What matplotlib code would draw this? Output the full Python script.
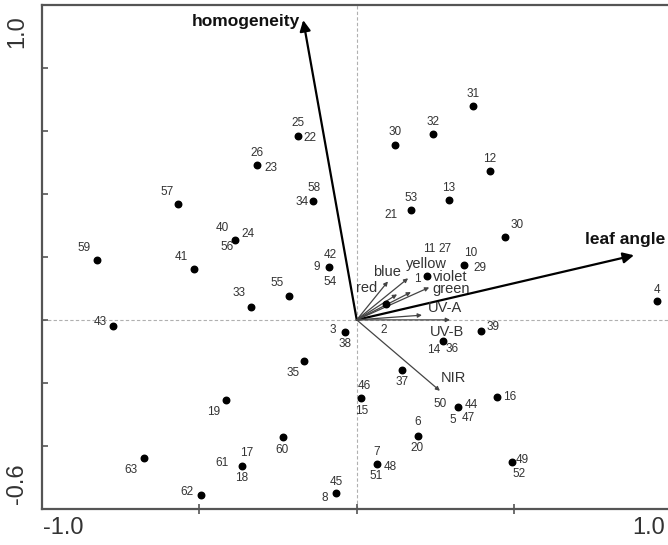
import matplotlib
matplotlib.use("Agg")
import matplotlib.pyplot as plt

plt.rcParams['font.family'] = ['Liberation Sans', 'DejaVu Sans']

# site scores (axis 1, axis 2) and the sample numbers printed at each point
site_x = [-0.187, -0.317, -0.566, -0.138, -0.386, -0.825, -0.516, -0.087, -0.337, -0.216,
          -0.775, -0.167, -0.416, -0.235, -0.675, -0.365, -0.494, -0.066, -0.037, 0.952,
          0.394, 0.273, 0.093, 0.143, 0.014, 0.323, 0.444, 0.194, 0.063, 0.492,
          0.370, 0.241, 0.122, 0.422, 0.292, 0.171, 0.471, 0.342, 0.224]
site_y = [0.582, 0.493, 0.369, 0.376, 0.253, 0.189, 0.163, 0.168, 0.042, 0.076,
          -0.020, -0.132, -0.255, -0.372, -0.437, -0.463, -0.555, -0.548, -0.040, 0.060,
          -0.035, -0.068, 0.050, -0.158, -0.249, -0.275, -0.244, -0.367, -0.457, -0.451,
          0.679, 0.589, 0.556, 0.471, 0.381, 0.348, 0.263, 0.173, 0.139]
site_labels = [["25", "22"], ["26", "23"], ["57"], ["58", "34"], ["40", "24", "56"],
               ["59"], ["41"], ["42", "9", "54"], ["33"], ["55"],
               ["43"], ["35"], ["19"], ["60"], ["63"],
               ["17", "61", "18"], ["62"], ["45", "8"], ["3", "38"], ["4"],
               ["39"], ["14", "36"], ["2"], ["37"], ["46", "15"],
               ["50", "44", "5", "47"], ["16"], ["6", "20"], ["7", "48", "51"], ["49", "52"],
               ["31"], ["32"], ["30"], ["12"], ["13"],
               ["53", "21"], ["30"], ["10", "29"], ["1", "11", "27"]]

# environmental variables (biplot arrows)
env_names = ["homogeneity", "leaf angle", "blue", "yellow", "red", "violet", "green",
             "UV-A", "UV-B", "NIR"]
env_x = [-0.170, 0.880, 0.099, 0.163, 0.128, 0.172, 0.230, 0.207, 0.296, 0.264]
env_y = [0.951, 0.205, 0.122, 0.132, 0.081, 0.088, 0.103, 0.015, 0.000, -0.225]

# label placement (pixels right / down from the point)
site_offsets = [[(0, -13.7), (12.3, 1.3)], [(0.3, -12), (14, 3)], [(-11.6, -11.3)],
                [(0.7, -13), (-11.6, 1)], [(-13, -11.7), (13, -5.7), (-8.3, 7.3)],
                [(-12.4, -12)], [(-12.6, -11.6)], [(0.7, -11.7), (-12.3, 0), (0.7, 15.3)],
                [(-11.7, -13.3)], [(-12, -12.7)],
                [(-12.7, -3.7)], [(-11.3, 11.7)], [(-11.7, 12)], [(-0.4, 12.4)], [(-13, 12)],
                [(5, -12.7), (-20, -2.7), (0, 12.3)], [(-14.3, -2.7)], [(0.7, -10.7), (-11, 5.3)],
                [(-12, -2.3), (0, 11.7)], [(0.6, -11)],
                [(12.6, -4.4)], [(-8.7, 8.4), (9, 7.7)], [(-2, 25.7)], [(0, 12)],
                [(3.3, -12.6), (0.7, 12.4)],
                [(-18.3, -2.7), (12.4, -1.7), (-5.6, 13), (10, 11.3)], [(12.6, 0)],
                [(0, -14), (-0.4, 12.3)], [(0, -12.3), (13.3, 2.7), (0, 12.3)],
                [(11, -2.3), (7.6, 12.4)],
                [(-0.6, -12)], [(0, -12.7)], [(0, -12.7)], [(0, -12.7)], [(0, -12)],
                [(0, -12.4), (-20, 4.3)], [(12.3, -12.4)], [(6.4, -12.7), (15.7, 2.3)],
                [(-9.6, 2.6), (2, -27.4), (17.7, -27.4)]]
env_offsets = [(-3, 1), (31, -15.3), (-0.5, -9), (18.5, -14.5), (-30, -6), (39.5, -15.5),
               (22, 2), (23, -7), (-3, 12.3), (14, -12.7)]

fig = plt.figure(figsize=(6.68, 5.45), dpi=100)
ax = fig.add_axes([41.7 / 668, 36 / 545, 626.3 / 668, 504.3 / 545])
ax.set_xlim(-1.0, 0.988)
ax.set_ylim(-0.6, 1.0)

ax.axhline(0, color='#b0b0b0', lw=0.8, ls=(0, (3, 2)), zorder=1)
ax.axvline(0, color='#b0b0b0', lw=0.8, ls=(0, (3, 2)), zorder=1)

# arrows
for i, name in enumerate(env_names):
    big = i < 2
    ax.annotate('', xy=(env_x[i], env_y[i]), xytext=(0, 0),
                arrowprops=dict(arrowstyle='-|>', color='black' if big else '#444444',
                                lw=1.6 if big else 0.9,
                                mutation_scale=16 if big else 6,
                                shrinkA=0, shrinkB=0), zorder=2)
    dx, dy = env_offsets[i]
    if big:
        ax.annotate(name, xy=(env_x[i], env_y[i]), xytext=(dx, -dy),
                    textcoords='offset pixels', ha='right', va='center',
                    fontsize=12.5, fontweight='bold', color='#111111')
    else:
        ax.annotate(name, xy=(env_x[i], env_y[i]), xytext=(dx, -dy),
                    textcoords='offset pixels', ha='center', va='center',
                    fontsize=10.5, color='#333333')

# sites
ax.scatter(site_x, site_y, s=22, color='black', zorder=3)
for i in range(len(site_x)):
    for lab, (dx, dy) in zip(site_labels[i], site_offsets[i]):
        ax.annotate(lab, xy=(site_x[i], site_y[i]), xytext=(dx, -dy),
                    textcoords='offset pixels', ha='center', va='center',
                    fontsize=8.5, color='#333333')

# frame and ticks
for side in ['left', 'bottom', 'top']:
    ax.spines[side].set_color('#555555')
    ax.spines[side].set_linewidth(1.6)
ax.spines['right'].set_visible(False)
ax.set_xticks([-0.5, 0, 0.5])
ax.set_yticks([-0.4, -0.2, 0, 0.2, 0.4, 0.6, 0.8])
ax.tick_params(axis='x', direction='inout', length=7, width=1.2, color='#555555',
               labelbottom=False)
ax.tick_params(axis='y', direction='in', length=4, width=1.2, color='#555555',
               labelleft=False)

ax.text(0.002, -0.015, "-1.0", transform=ax.transAxes, ha='left', va='top',
        fontsize=17, color='#333333')
ax.text(0.995, -0.015, "1.0", transform=ax.transAxes, ha='right', va='top',
        fontsize=17, color='#333333')
ax.text(-0.022, 0.98, "1.0", transform=ax.transAxes, ha='right', va='top',
        rotation=90, fontsize=17, color='#333333')
ax.text(-0.022, 0.01, "-0.6", transform=ax.transAxes, ha='right', va='bottom',
        rotation=90, fontsize=17, color='#333333')

fig.savefig("out.png", dpi=100)
